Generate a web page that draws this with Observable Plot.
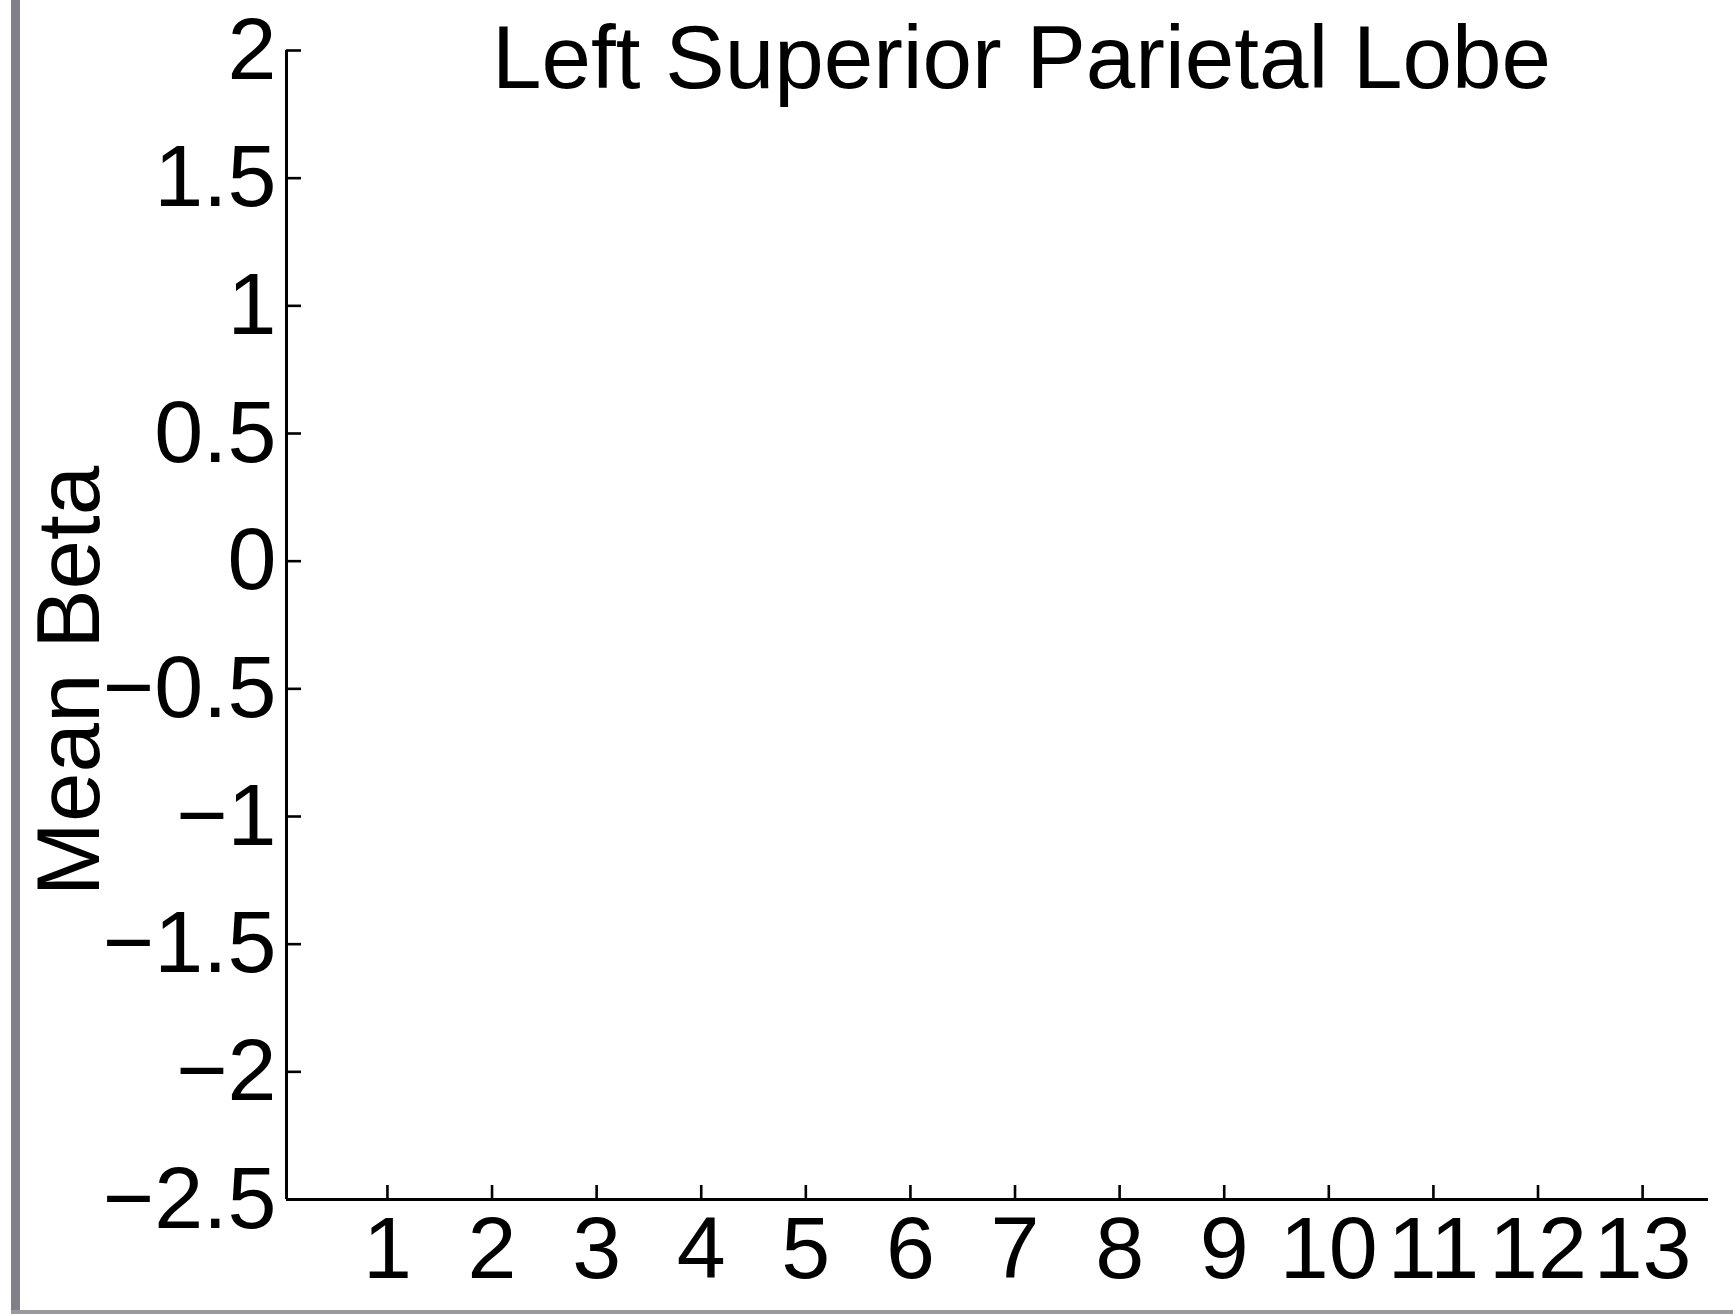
<!DOCTYPE html>
<html>
<head>
<meta charset="utf-8">
<script src="https://cdn.jsdelivr.net/npm/d3@7"></script>
<script src="https://cdn.jsdelivr.net/npm/@observablehq/plot@0.6"></script>
<style>
  html, body { margin: 0; padding: 0; background: #fff; }
  #wrap { position: relative; width: 1733px; height: 1314px; overflow: hidden; }
  #edgeL { position: absolute; left: 11px; top: 0; width: 9px; height: 1314px; background: #808086; }
  #edgeB { position: absolute; left: 11px; top: 1310px; width: 1722px; height: 4px; background: #9a9a9e; }
</style>
</head>
<body>
<div id="wrap">
  <div id="chart"></div>
  <div id="edgeL"></div>
  <div id="edgeB"></div>
</div>
<script>
// Data (the reference shows empty axes: no bars drawn)
const categories = [1, 2, 3, 4, 5, 6, 7, 8, 9, 10, 11, 12, 13];
const meanBeta = []; // no values visible in the reference
const yTicks = [-2.5, -2, -1.5, -1, -0.5, 0, 0.5, 1, 1.5, 2];
const titleText = "Left Superior Parietal Lobe";
const yLabel = "Mean Beta";

const xDomain = [0.035, 13.63];
const yDomain = [-2.5, 2];

const W = 1733, H = 1314;
const mL = 286, mR = 25, mT = 50, mB = 115;
const frameW = W - mL - mR, frameH = H - mT - mB;
const font = "'Liberation Sans', Arial, Helvetica, sans-serif";

const chart = Plot.plot({
  width: W,
  height: H,
  marginLeft: mL,
  marginRight: mR,
  marginTop: mT,
  marginBottom: mB,
  style: { fontFamily: font, fontSize: "88px", color: "#000", background: "transparent", overflow: "visible" },
  x: { type: "linear", domain: xDomain },
  y: { type: "linear", domain: yDomain },
  marks: [
    Plot.rectY(meanBeta, { x1: d => d.x - 0.4, x2: d => d.x + 0.4, y: "y" }),
    // axis lines
    Plot.ruleX([xDomain[0]], { stroke: "#000", strokeWidth: 3 }),
    Plot.ruleY([yDomain[0]], { stroke: "#000", strokeWidth: 3 }),
    // inward tick marks
    Plot.ruleY(yTicks, { stroke: "#000", strokeWidth: 2.6, insetRight: frameW - 15 }),
    Plot.ruleX(categories, { stroke: "#000", strokeWidth: 2.6, insetTop: frameH - 14 }),
    // tick labels
    Plot.axisY({ ticks: yTicks, tickSize: 0, tickPadding: 10, label: null, fontSize: 88, tickFormat: d => d3.format("")(d).replace("-", "\u2212") }),
    Plot.axisX({ ticks: categories, tickSize: 0, tickPadding: 16, label: null, fontSize: 88, tickFormat: d => String(d) }),
    // y label
    Plot.text([yLabel], { frameAnchor: "left", text: d => d, rotate: -90, textAnchor: "middle", lineAnchor: "bottom", dx: -188, dy: 56, fontSize: 89, fill: "#000" }),
    // title
    Plot.text([titleText], { frameAnchor: "top", text: d => d, textAnchor: "middle", lineAnchor: "bottom", dx: 24, dy: 37, fontSize: 89, fill: "#000" })
  ]
});
document.getElementById("chart").appendChild(chart);
</script>
</body>
</html>
